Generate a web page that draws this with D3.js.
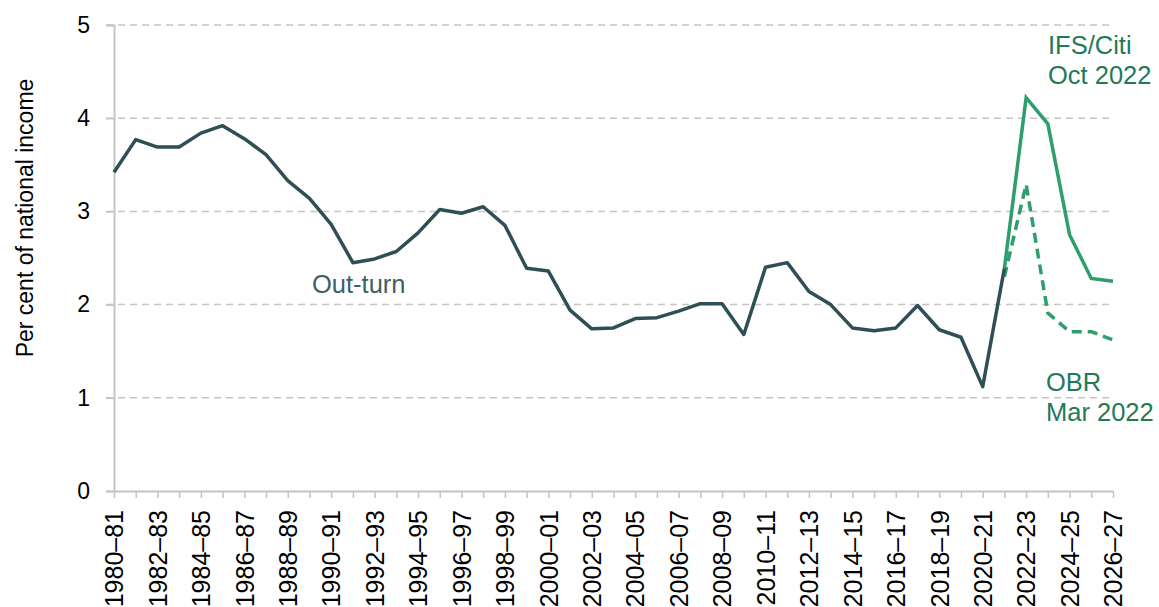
<!DOCTYPE html>
<html>
<head>
<meta charset="utf-8">
<script src="https://cdn.jsdelivr.net/npm/d3@7"></script>
<style>
  body { margin: 0; background: #fff; }
  text { font-family: "Liberation Sans", Arial, sans-serif; }
</style>
</head>
<body>
<div id="chart"></div>
<script>
width = 1159
height = 607

// financial years 1980-81 .. 2026-27
let years = d3.range(1980, 2027).map(y => y + "\u2013" + String((y + 1) % 100).padStart(2, "0"))

let outturn = [3.42, 3.77, 3.69, 3.69, 3.84, 3.92, 3.78, 3.61, 3.33, 3.14,
    2.86, 2.45, 2.49, 2.57, 2.77, 3.02, 2.98, 3.05, 2.85, 2.39,
    2.36, 1.94, 1.74, 1.75, 1.85, 1.86, 1.93, 2.01, 2.01, 1.68,
    2.40, 2.45, 2.14, 2.00, 1.75, 1.72, 1.75, 1.99, 1.73, 1.65,
    1.12, 2.39]
let ifsYears = years.slice(41)
let ifsCiti = [2.39, 4.22, 3.94, 2.75, 2.28, 2.25]
let obrYears = years.slice(41)
let obr = [2.30, 3.29, 1.91, 1.71, 1.71, 1.62]
let yTicks = [0, 1, 2, 3, 4, 5]

let margin = { left: 114, right: 46, top: 25, bottom: 116 }

let svg = d3.select("#chart")
    .append("svg")
    .attr("width", width)
    .attr("height", height)

let x = d3.scalePoint()
    .domain(years)
    .range([margin.left, width - margin.right])

let y = d3.scaleLinear()
    .domain([0, 5])
    .range([height - margin.bottom, margin.top])

// gridlines
svg.append("g")
    .selectAll("line")
    .data(yTicks.filter(d => d > 0))
    .join("line")
    .attr("x1", margin.left - 8)
    .attr("x2", width - margin.right)
    .attr("y1", d => y(d))
    .attr("y2", d => y(d))
    .attr("stroke", "#c4c4c4")
    .attr("stroke-width", 1.5)
    .attr("stroke-dasharray", "7,5")

// y axis
let yAxis = svg.append("g")
    .attr("transform", "translate(" + margin.left + ",0)")
    .call(d3.axisLeft(y).tickValues(yTicks).tickFormat(d3.format("d")).tickSize(8).tickPadding(16))
yAxis.select(".domain").attr("stroke", "#c4c4c4").attr("stroke-width", 2)
yAxis.selectAll(".tick line").attr("stroke", "#c4c4c4").attr("stroke-width", 1.5)
yAxis.selectAll(".tick text")
    .style("font-size", "23px")
    .attr("fill", "#000")
    .style("font-family", "'Liberation Sans', Arial, sans-serif")

// x axis
let xAxis = svg.append("g")
    .attr("transform", "translate(0," + y(0) + ")")
    .call(d3.axisBottom(x).tickSize(7).tickSizeOuter(0)
        .tickFormat((d, i) => i % 2 == 0 ? d : ""))
xAxis.select(".domain").attr("stroke", "#c4c4c4").attr("stroke-width", 2)
xAxis.selectAll(".tick line").attr("stroke", "#c4c4c4").attr("stroke-width", 1.5)
xAxis.selectAll(".tick text")
    .style("font-size", "25px")
    .attr("fill", "#000")
    .style("font-family", "'Liberation Sans', Arial, sans-serif")
    .attr("text-anchor", "end")
    .attr("transform", "rotate(-90)")
    .attr("x", -19)
    .attr("y", 0)
    .attr("dy", "0.35em")

// y label
svg.append("text")
    .attr("transform", "translate(33,218) rotate(-90)")
    .attr("text-anchor", "middle")
    .style("font-size", "23px")
    .attr("fill", "#000")
    .text("Per cent of national income")

let line = d3.line()
    .x(d => x(d[0]))
    .y(d => y(d[1]))

svg.append("path")
    .datum(d3.zip(obrYears, obr))
    .attr("d", line)
    .attr("fill", "none")
    .attr("stroke", "#2e9e6c")
    .attr("stroke-width", 3.5)
    .attr("stroke-dasharray", "10,6")

svg.append("path")
    .datum(d3.zip(ifsYears, ifsCiti))
    .attr("d", line)
    .attr("fill", "none")
    .attr("stroke", "#2e9e6c")
    .attr("stroke-width", 3.5)

svg.append("path")
    .datum(d3.zip(years.slice(0, outturn.length), outturn))
    .attr("d", line)
    .attr("fill", "none")
    .attr("stroke", "#2f4f56")
    .attr("stroke-width", 3.5)
    .attr("stroke-linejoin", "round")

// labels
let labels = [
    { lines: ["Out-turn"], x: 312, y: 293, color: "#3f5f66" },
    { lines: ["IFS/Citi", "Oct 2022"], x: 1048, y: 54, color: "#1f7a55" },
    { lines: ["OBR", "Mar 2022"], x: 1046, y: 391, color: "#1f7a55" }
]
labels.forEach(l => {
    let t = svg.append("text")
        .attr("x", l.x)
        .attr("y", l.y)
        .style("font-size", "25.5px")
        .attr("fill", l.color)
    l.lines.forEach((s, i) => {
        t.append("tspan").attr("x", l.x).attr("dy", i == 0 ? 0 : 30).text(s)
    })
})
</script>
</body>
</html>
